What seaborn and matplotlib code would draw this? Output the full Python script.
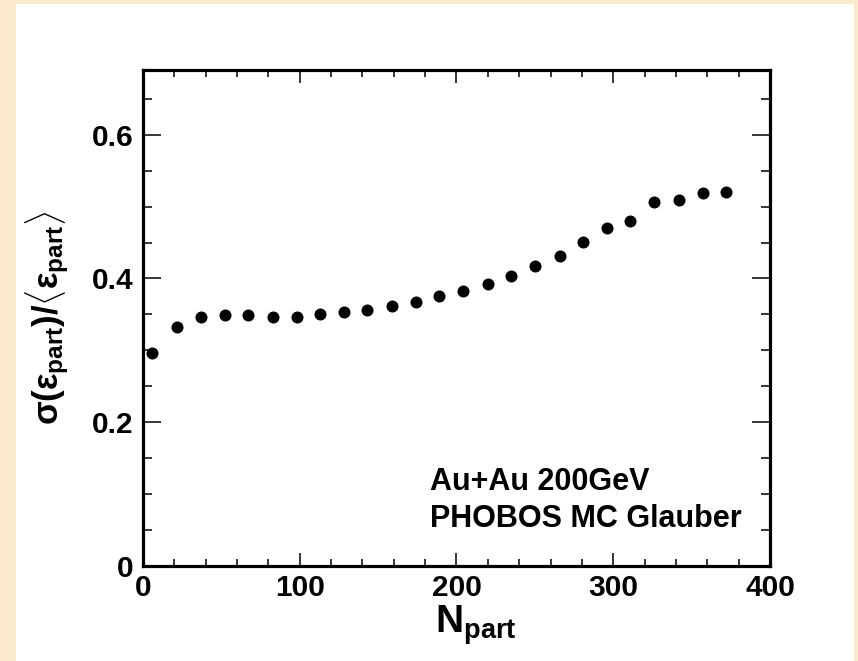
import matplotlib
matplotlib.use("Agg")
import matplotlib.pyplot as plt
from matplotlib.patches import Rectangle
from matplotlib.ticker import MultipleLocator
import seaborn as sns
import pandas as pd

# ---- data ----
npart = [6, 22, 37, 52, 67, 83, 98, 113, 128, 143, 159, 174, 189, 204, 220,
         235, 250, 266, 281, 296, 311, 326, 342, 357, 372]
sigma_ratio = [0.296, 0.333, 0.347, 0.349, 0.349, 0.347, 0.347, 0.351, 0.353,
               0.356, 0.361, 0.367, 0.375, 0.383, 0.392, 0.404, 0.417, 0.431,
               0.451, 0.470, 0.480, 0.507, 0.509, 0.519, 0.520]
x_ticks = [0, 100, 200, 300, 400]
y_ticks = [0, 0.2, 0.4, 0.6]
y_tick_labels = ["0", "0.2", "0.4", "0.6"]
annotation_lines = ["Au+Au 200GeV", "PHOBOS MC Glauber"]

df = pd.DataFrame({"Npart": npart, "ratio": sigma_ratio})

sns.set_style("ticks")
plt.rcParams["font.family"] = ["Liberation Sans", "DejaVu Sans"]
plt.rcParams["font.weight"] = "bold"
plt.rcParams["text.color"] = "black"
plt.rcParams["axes.labelcolor"] = "black"
plt.rcParams["xtick.color"] = "black"
plt.rcParams["ytick.color"] = "black"
plt.rcParams["mathtext.fontset"] = "custom"
plt.rcParams["mathtext.rm"] = "Liberation Sans:bold"
plt.rcParams["mathtext.it"] = "Liberation Sans"
plt.rcParams["mathtext.bf"] = "Liberation Sans:bold"
plt.rcParams["mathtext.sf"] = "Liberation Sans:bold"

W, H = 858, 661
fig = plt.figure(figsize=(W / 100, H / 100), dpi=100)
fig.patch.set_facecolor("#FAE9CC")
fig.patches.append(Rectangle((16 / W, 0), (854 - 16) / W, (H - 4) / H,
                             transform=fig.transFigure, facecolor="white",
                             edgecolor="none", zorder=-10))

ax = fig.add_axes([143 / W, 1 - 566 / H, (770 - 143) / W, (566 - 70) / H])
ax.set_facecolor("white")
ax.set_zorder(5)

sns.scatterplot(data=df, x="Npart", y="ratio", ax=ax, color="black",
                s=75, linewidth=0, marker="o", legend=False, zorder=3)

ax.set_xlim(0, 400)
ax.set_ylim(0, 0.69)
ax.set_xticks(x_ticks)
ax.set_xticklabels([str(v) for v in x_ticks])
ax.set_yticks(y_ticks)
ax.set_yticklabels(y_tick_labels)
ax.xaxis.set_minor_locator(MultipleLocator(20))
ax.yaxis.set_minor_locator(MultipleLocator(0.05))

for sp in ax.spines.values():
    sp.set_visible(True)
    sp.set_linewidth(2.3)
    sp.set_color("black")

ax.tick_params(axis="x", which="major", direction="in", length=9.5, width=1.1,
               top=True, bottom=True, labelsize=21.5, pad=6, colors="black")
ax.tick_params(axis="x", which="minor", direction="in", length=4.8, width=1.1,
               top=True, bottom=True, colors="black")
ax.tick_params(axis="y", which="major", direction="in", length=13, width=1.1,
               left=True, right=True, labelsize=21.5, pad=7, colors="black")
ax.tick_params(axis="y", which="minor", direction="in", length=6.8, width=1.1,
               left=True, right=True, colors="black")
for lab in ax.get_xticklabels() + ax.get_yticklabels():
    lab.set_fontweight("bold")

ax.set_xlabel(r"$\mathbf{N}_{\mathbf{part}}$", fontsize=28, color="black")
ax.xaxis.set_label_coords(0.531, -0.075)
ax.set_ylabel(r"$\sigma(\epsilon_{\mathbf{part}})/\langle\epsilon_{\mathbf{part}}\rangle$",
              fontsize=25, color="black")
ax.yaxis.set_label_coords(-0.115, 0.5)

ax.text(183, 0.106, annotation_lines[0], fontsize=22, fontweight="bold",
        ha="left", va="baseline", color="black")
ax.text(183, 0.054, annotation_lines[1], fontsize=22, fontweight="bold",
        ha="left", va="baseline", color="black")

fig.savefig("out.png", dpi=100, facecolor=fig.get_facecolor())
